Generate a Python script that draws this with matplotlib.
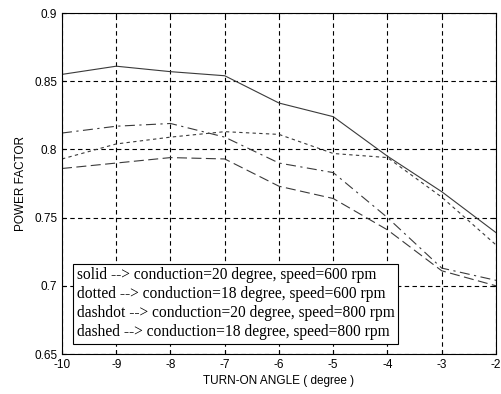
import matplotlib
matplotlib.use('Agg')
import matplotlib.pyplot as plt

angle = [-10, -9, -8, -7, -6, -5, -4, -3, -2]
solid = [0.855, 0.861, 0.857, 0.854, 0.834, 0.824, 0.795, 0.769, 0.739]
dotted = [0.793, 0.804, 0.809, 0.813, 0.811, 0.797, 0.794, 0.765, 0.730]
dashdot = [0.812, 0.817, 0.819, 0.809, 0.790, 0.783, 0.750, 0.713, 0.704]
dashed = [0.786, 0.790, 0.794, 0.793, 0.773, 0.764, 0.741, 0.711, 0.700]

labels = ['solid --> conduction=20 degree, speed=600 rpm',
          'dotted --> conduction=18 degree, speed=600 rpm',
          'dashdot --> conduction=20 degree, speed=800 rpm',
          'dashed --> conduction=18 degree, speed=800 rpm']

plt.rcParams['font.family'] = 'Liberation Sans'
plt.rcParams['axes.unicode_minus'] = False
fig = plt.figure(figsize=(5.02, 3.94), dpi=100)
ax = fig.add_axes([0.1235, 0.1015, 0.8645, 0.8655])

lc = '#3a3a3a'
ax.plot(angle, solid, color=lc, lw=0.8, ls='-', label=labels[0])
ax.plot(angle, dotted, color=lc, lw=0.8, ls=(0, (3, 3)), label=labels[1])
ax.plot(angle, dashdot, color=lc, lw=0.8, ls=(0, (9, 4, 2, 4)), label=labels[2])
ax.plot(angle, dashed, color=lc, lw=0.8, ls=(0, (9, 4)), label=labels[3])

ax.set_xlim(-10, -2)
ax.set_ylim(0.65, 0.9)
ax.set_xticks(angle)
ax.set_yticks([0.65, 0.7, 0.75, 0.8, 0.85, 0.9])
ax.set_yticklabels(['0.65', '0.7', '0.75', '0.8', '0.85', '0.9'])
ax.grid(True, color='black', ls=(0, (4, 3)), lw=0.8)
ax.tick_params(direction='in', length=3, labelsize=8.5, top=True, right=True)
ax.set_xlabel('TURN-ON ANGLE ( degree )', fontsize=8.5, labelpad=3)
ax.set_ylabel('POWER FACTOR', fontsize=8.5, labelpad=5)

leg = ax.legend(loc='lower left', bbox_to_anchor=(0.025, 0.03), borderaxespad=0,
                handlelength=0, handletextpad=0, fancybox=False, framealpha=1,
                edgecolor='black', borderpad=0.25, labelspacing=0.18,
                prop={'family': 'Liberation Serif', 'size': 11.2})
for h in leg.legend_handles:
    h.set_visible(False)
leg.get_frame().set_linewidth(0.8)

fig.savefig('out.png', dpi=100)
